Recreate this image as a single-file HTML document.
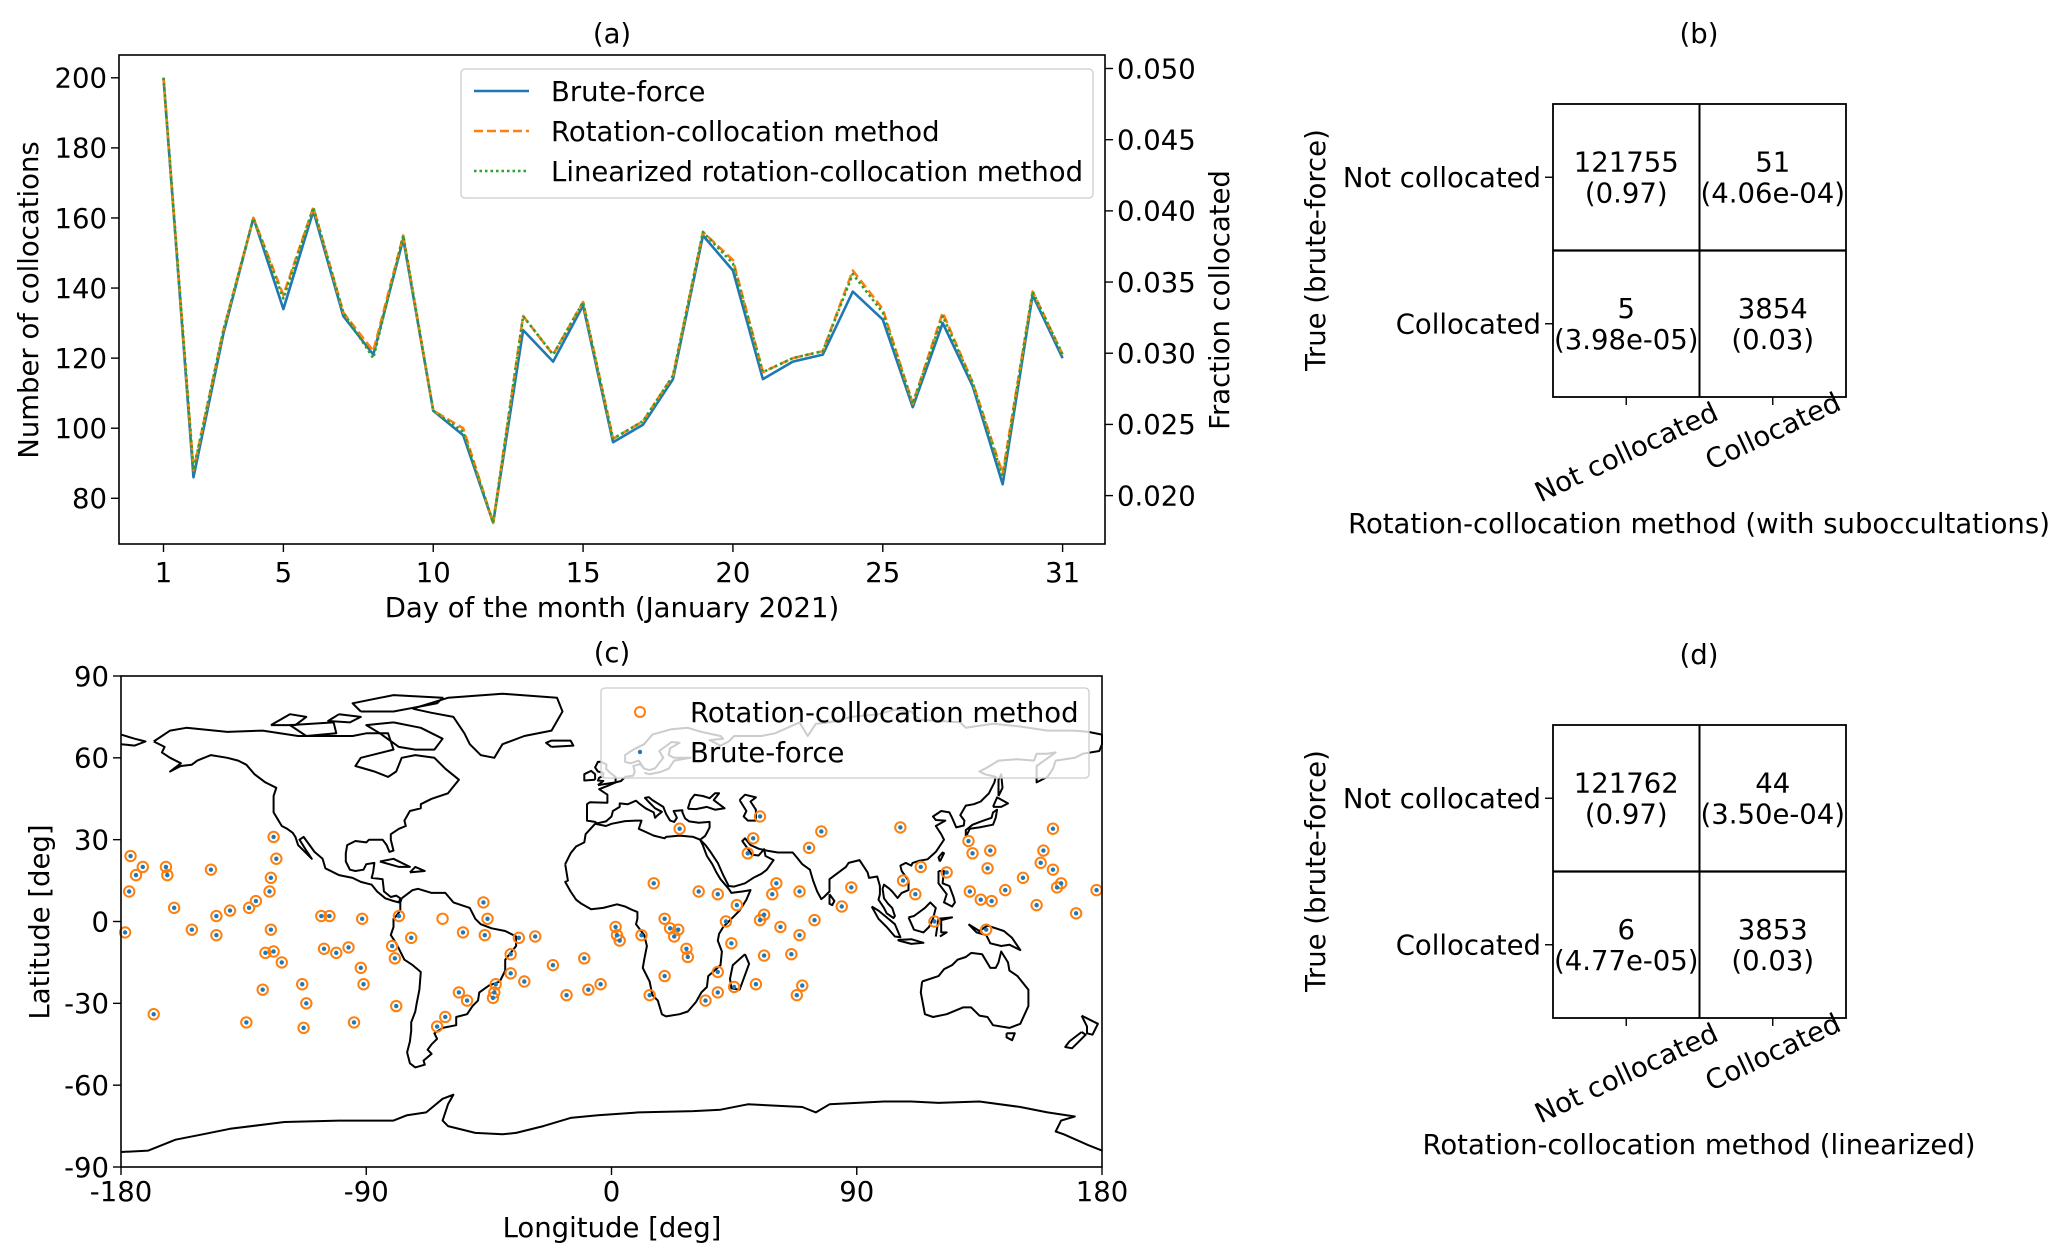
<!DOCTYPE html>
<html><head><meta charset="utf-8"><style>
html,body{margin:0;padding:0;background:#fff;}
svg{display:block;font-family:"DejaVu Sans","Liberation Sans",sans-serif;}
</style></head><body>
<svg id="fig" width="2067" height="1260" viewBox="0 0 2067 1260" xmlns="http://www.w3.org/2000/svg">
<rect width="2067" height="1260" fill="#fff"/>
<g id="pa"></g>
<g id="pc"></g>
<g id="pb"></g>
<g id="pd"></g>
</svg>
<script>
const days=[1,2,3,4,5,6,7,8,9,10,11,12,13,14,15,16,17,18,19,20,21,22,23,24,25,26,27,28,29,30,31];
const bruteForce=[200,86,127,160,134,162,132,121,154,105,98,73,128,119,135,96,101,114,155,145,114,119,121,139,131,106,130,112,84,138,120];
const rotation=[200,88,128,160,138,163,133,122,155,105,100,73,132,121,136,97,102,115,156,148,116,120,122,145,134,107,133,113,87,139,121];
const linearized=[200,88,128,160,137,163,133,120,155,105,99,73,132,121,136,97,102,115,156,147,116,120,122,144,133,107,132,113,86,139,121];
const xTicks=[1,5,10,15,20,25,31];
const yTicks=[80,100,120,140,160,180,200];
const y2Ticks=[0.020,0.025,0.030,0.035,0.040,0.045,0.050];
const y2Labels=["0.020","0.025","0.030","0.035","0.040","0.045","0.050"];
const lonTicks=[-180,-90,0,90,180];
const latTicks=[90,60,30,0,-30,-60,-90];
const ptsLon=[-178.5,-176.5,-177,-174.5,-172,-168,-163.5,-163,-160.5,-154,-147,-145,-145,-140,-134,-133,-130.5,-128,-127,-125.5,-125,-125,-124,-124,-123,-121,-113.5,-113,-112,-106.5,-105.5,-103.5,-101,-96.5,-94.5,-92,-91.5,-91,-80.5,-79.5,-79,-78,-73.5,-64,-61,-56,-54.5,-53,-47,-46.5,-45.5,-43.5,-43,-42.5,-37,-37,-34,-32,-28,-21.5,-16.5,-10,-8.5,-4,1.5,2,3,11,14,15.5,19.5,19.5,21.5,23,24.5,25,27.5,28,32,34.5,39,39,39,42,44,45,46,50,52,54.5,54.5,53,56,56,59,60.5,62,66,68,69,69,70,72.5,74.5,77,84.5,88,106,107,111.5,113.5,118.5,123,131,131.5,132.5,135.5,138,139,139.5,137.5,144.5,151,156,157.5,158.5,162,162,163.5,165,170.5,178];
const ptsLat=[-4,24,11,17,20,-34,20,17,5,-3,19,2,-5,4,-37,5,7.5,-25,-11.5,11,16,-3,-11,31,23,-15,-23,-39,-30,2,-10,2,-11.5,-9.5,-37,-17,1,-23,-9,-13.5,-31,2,-6,-38.5,-35,-26,-4,-29,7,-5,1,-28,-26,-23,-12,-19,-6,-22,-5.5,-16,-27,-13.5,-25,-23,-2,-5,-7,-5,-27,14,1,-20,-2.5,-5.5,-3,34,-10,-13,11,-29,-18.5,10,-26,0,-8,-24,6,25,30.5,38.5,0.5,-23,2.5,-12.5,10,14,-2,-12,-27,-5,11,-23.5,27,0.5,33,5.5,12.5,34.5,15,10,20,0,18,29.5,11,25,8,19.5,26,7.5,-3,11.5,16,6,21.5,26,34,19,12.5,14,3,11.5];
const extraRotLon=[-62];
const extraRotLat=[1];

const NS='http://www.w3.org/2000/svg';
function mk(parent,tag,attrs,txt){const e=document.createElementNS(NS,tag);for(const k in attrs)e.setAttribute(k,attrs[k]);if(txt!==undefined)e.textContent=txt;parent.appendChild(e);return e;}
const FS=27.5;
const OFF=9.8;

// ---------- Panel (a) ----------
const pa=document.getElementById('pa');
const A={l:119,r:1105,t:55,b:544};
const ax=d=>163.5+(d-1)*(1062.6-163.5)/30;
const ay=v=>498.3-(v-80)*(498.3-77.8)/120;
const ay2=v=>495.6-(v-0.020)*(495.6-68.5)/0.030;
let t=mk(pa,'text',{x:612,y:43,'text-anchor':'middle','font-size':FS},'(a)');


function poly(vals,color,dash,name){const p=mk(pa,'polyline',{points:vals.map((v,i)=>ax(days[i])+','+ay(v)).join(' '),fill:'none',stroke:color,'stroke-width':2.6,'stroke-dasharray':dash,'stroke-linejoin':'round'});}
poly(bruteForce,'#1f77b4','none','brute-force-line');
poly(rotation,'#ff7f0e','9,4','rotation-collocation-line');
poly(linearized,'#2ca02c','2.5,3','linearized-rotation-line');
let fr=mk(pa,'rect',{x:A.l,y:A.t,width:A.r-A.l,height:A.b-A.t,fill:'none',stroke:'#000','stroke-width':1.6});


xTicks.forEach(d=>{mk(pa,'line',{x1:ax(d),x2:ax(d),y1:A.b,y2:A.b+8,stroke:'#000','stroke-width':1.4});const e=mk(pa,'text',{x:ax(d),y:582,'text-anchor':'middle','font-size':FS},String(d));});
yTicks.forEach(v=>{mk(pa,'line',{x1:A.l-8,x2:A.l,y1:ay(v),y2:ay(v),stroke:'#000','stroke-width':1.4});const e=mk(pa,'text',{x:A.l-12,y:ay(v)+OFF,'text-anchor':'end','font-size':FS},String(v));});
y2Ticks.forEach((v,i)=>{mk(pa,'line',{x1:A.r,x2:A.r+8,y1:ay2(v),y2:ay2(v),stroke:'#000','stroke-width':1.4});const e=mk(pa,'text',{x:A.r+12,y:ay2(v)+OFF,'font-size':FS},y2Labels[i]);});
t=mk(pa,'text',{x:612,y:617,'text-anchor':'middle','font-size':FS},'Day of the month (January 2021)');


t=mk(pa,'text',{transform:'translate(38,300) rotate(-90)','text-anchor':'middle','font-size':FS},'Number of collocations');


t=mk(pa,'text',{transform:'translate(1229,300) rotate(-90)','text-anchor':'middle','font-size':FS},'Fraction collocated');


const lg=mk(pa,'g',{});


mk(lg,'rect',{x:461,y:69,width:632,height:129,rx:4,fill:'#fff','fill-opacity':0.85,stroke:'#ccc','stroke-width':1.3});
[['Brute-force','#1f77b4','none'],['Rotation-collocation method','#ff7f0e','9,4'],['Linearized rotation-collocation method','#2ca02c','2.5,3']].forEach((L,i)=>{const y=91+i*40;mk(lg,'line',{x1:474,x2:529,y1:y,y2:y,stroke:L[1],'stroke-width':2.6,'stroke-dasharray':L[2]});const e=mk(lg,'text',{x:551,y:y+OFF,'font-size':FS},L[0]);});

// ---------- Panel (c) map ----------
const pc=document.getElementById('pc');
const C={l:121,r:1102,t:676,b:1167};
const mx=lon=>C.l+(lon+180)*(C.r-C.l)/360;
const my=lat=>C.t+(90-lat)*(C.b-C.t)/180;
t=mk(pc,'text',{x:612,y:662,'text-anchor':'middle','font-size':FS},'(c)');


const coasts=[
[[-168,66],[-162,70],[-156,71],[-141,69.5],[-128,70],[-115,68],[-95,68],[-90,69],[-82,69],[-80,63],[-92,60],[-94,57],[-87,55],[-82,53],[-79,55],[-77,60],[-72,61],[-65,60],[-61,56],[-56,52],[-60,47],[-66,45],[-70,43],[-70,41.5],[-74,40.5],[-76,37],[-75.5,35],[-78,34],[-81,32],[-81,30],[-80,26],[-81.5,25.5],[-82.5,28],[-84,30],[-89,30],[-90,29],[-94,29.5],[-97,28],[-97.5,25],[-97.5,22],[-96,19],[-94,18.5],[-91,19],[-90,21],[-87,21.5],[-87.5,18],[-88,16],[-84,15.5],[-83.5,11],[-81,9],[-79,9.5],[-77.5,8.5],[-78,7],[-80,7.5],[-83,8.5],[-86,11],[-88,13.5],[-92,14.5],[-95,16],[-100,17],[-105,19.5],[-106,23],[-109,25.5],[-113,31],[-114.5,30],[-112,26],[-110,23],[-112,25],[-115,28],[-116,31],[-117,32.5],[-119,34],[-121,35],[-122.5,37.5],[-124,40],[-124,46],[-123,49],[-127,51],[-131,54],[-134,57.5],[-137,59],[-141,60],[-147,61],[-152,59],[-154,57.5],[-158,57],[-162,55],[-158,58],[-162,60],[-165,62],[-164,64],[-168,66]],
[[-73,78],[-60,82],[-40,83.5],[-20,82],[-18,77],[-22,70],[-32,68],[-40,65],[-43,60],[-48,61],[-52,65],[-54,69],[-58,75],[-66,76.5],[-73,78]],
[[-80,73],[-70,71],[-62,67],[-65,63],[-72,63],[-78,64],[-85,69],[-90,72],[-80,73]],
[[-118,72],[-102,73],[-101,69],[-112,68],[-118,72]],
[[-92,77],[-80,77],[-64,80],[-62,82],[-80,83],[-95,80],[-92,77]],
[[-125,72],[-118,76],[-112,75],[-116,72],[-125,72]],
[[-100,76],[-92,75],[-96,73],[-104,73.5],[-100,76]],
[[-77,8.5],[-73,11.5],[-71,12],[-66,10.5],[-61,10.5],[-58,7],[-52,5],[-50,1],[-48,-1],[-44,-2.5],[-39,-3.5],[-35,-5.5],[-35,-9],[-39,-14],[-39,-18],[-41,-22],[-45,-23.5],[-48.5,-26],[-49,-29],[-51,-31],[-53,-34],[-57,-35],[-57,-38],[-62,-39],[-65,-41],[-64,-43],[-66,-45],[-67.5,-47],[-66,-48.5],[-69,-51],[-68.5,-52.5],[-72,-53.5],[-74,-52],[-75,-48],[-74,-44],[-73.5,-40],[-73.5,-37],[-72,-33],[-71.5,-30],[-70.5,-25],[-70,-18.5],[-73,-16],[-76,-14],[-79,-8],[-81,-5],[-80,-2],[-80,1],[-79,2],[-77.5,4],[-77.5,7],[-77,8.5]],
[[-17,21],[-16,15],[-17,14.5],[-15,11],[-13,8],[-11,6.5],[-7.5,4.5],[-3,5],[2,6.3],[5,5.5],[7,4.5],[9.5,3.5],[9.5,1],[9,-1],[12,-5],[13,-9],[12,-14],[11.5,-17],[14,-22],[15,-27],[17,-29],[18.5,-34],[20,-34.8],[25,-34],[28,-33],[31,-29.5],[33,-26],[35,-24],[35.5,-20],[40,-16],[40.5,-11],[39,-7],[39.5,-4.5],[41,-2],[44,1],[47,4],[49.5,8],[51,11.5],[48,11],[44,10.5],[43,12],[40,15.5],[38.5,18],[37,21],[35,24],[33.5,28],[32.5,30],[30,31],[25,31.5],[20,31],[19.5,30.5],[15.5,31.5],[10,34],[11,37],[9,37],[5,36.8],[0,35.8],[-2,35],[-6,35.8],[-9.5,32],[-10,29],[-13,27.5],[-15,25],[-17,21]],
[[32.5,30],[34.5,28],[36,26],[39,21.5],[41,17],[43,13],[45,12.8],[49,14],[52,16],[55,17.5],[57,19],[59.5,22.5],[56.5,24],[56,26.5],[54,24.2],[51.5,24.5],[50.5,26],[48,29.5],[49,30.5],[51,28],[54,26.7],[57,26],[61,25.3],[66.5,25.3],[68,23.5],[70,21],[72.8,19],[74,15],[75.5,11],[77,8.2],[78,9],[80,11],[80,15.5],[82,17],[86,20],[87,21.5],[89,22],[91,22.5],[92,21],[94,18],[94.5,16],[97.5,16.5],[98.5,13],[98.5,10],[98,8],[100,5],[101,3],[103.5,1.3],[104,2],[103,5],[101.5,6.5],[100,8.5],[99.5,12],[100,13.5],[102,12],[103,11],[105,8.6],[106.5,10.5],[109,11.5],[109,15],[106.5,18.5],[106,20.5],[108,21.5],[110,20.5],[110.5,21.5],[113,22.3],[116,22.8],[119,25.5],[120,27],[122,30],[121,32],[119,35],[122.5,37],[119,37.2],[118,38.5],[121,40.5],[124,40],[125,38],[126.5,34.5],[129.3,35.2],[129.5,37],[128,39],[130,42.5],[133,43],[135.5,44],[138.5,47],[140.5,51],[141,53],[137,54],[135,55],[138,56.5],[142,59],[149,59.5],[155,59],[156,61.5],[160,61.5],[163,62],[156,57],[156,51],[160,53],[162,56],[163,59],[170,60],[173,61.5],[179,62.5],[180,65],[180,68.5],[175,69.5],[170,70],[160,70],[150,71.5],[140,72.5],[130,71],[128,73],[113,74],[110,77],[104,77.7],[98,76],[88,75],[80,73],[75,72.5],[72,68],[69,73],[60,69],[55,68],[45,68],[43,66],[40,64.5],[36,66.5],[41,67],[40,68],[33,69.5],[28,71],[22,70.5],[15,68.5],[12,65],[8,63],[5,61],[5,58.5],[7,58],[10,59],[12,56],[10.5,57.7],[8,57],[8.5,55],[8,53.5],[5,53],[3.5,51.5],[1.5,51],[-1.5,49.7],[-4.5,48.5],[-1.5,46.5],[-1.5,43.5],[-8,43.7],[-9,43],[-9,39],[-9,37],[-6,36.5],[-5.3,36],[-2,36.7],[0,38.5],[0.5,40.5],[3,42],[3,43.3],[6,43],[9,44.3],[10.5,43],[12.5,41.5],[15.5,40],[16,38],[17,39],[18.5,40.2],[16,41.5],[13.5,44],[12.3,45.3],[13.7,45.6],[15,44.5],[19,42],[20,39.5],[21.5,37],[23,36.5],[24,38],[22.8,40.5],[26,40.8],[26,40],[27,37.8],[28.5,36.7],[32,36.2],[36,36.5],[36,34.5],[35,32.5],[34.3,31.3],[32.5,30]],
[[12,56],[14,55.5],[16,56.2],[19,60],[17.5,62.5],[22,65.8],[25,65.5],[21.5,63.5],[21,61],[23,60],[29,60],[23,59],[21,56],[18,54.8],[14,54],[12,54.5]],
[[28,41.3],[29,44.5],[30.5,46.5],[33.5,46],[36,45.2],[38,47],[39.5,47],[37.5,44.5],[41.5,41.5],[38,41],[35,42],[31,41.2],[28,41.3]],
[[47,44.5],[49,46.5],[53,45.5],[51,44],[53,41],[53,37],[50,37],[48.5,38.5],[49.5,40.5],[47,44.5]],
[[-5,50],[1.5,51],[1.5,53],[-0.5,54.5],[-2,56],[-1.8,57.6],[-4,58.6],[-5,58.5],[-6,56.5],[-5,55],[-3,54.5],[-3,53.3],[-4.5,52.7],[-5,51.7],[-3,51.5],[-5,50]],
[[-6,52],[-6,54],[-7.5,55.2],[-10,54],[-10,51.7],[-6,52]],
[[-22,64],[-14,64.5],[-15,66.3],[-22,66.3],[-24,65.5],[-22,64]],
[[49,-12],[50.5,-15.5],[47,-25],[44,-24.5],[43.5,-21],[44.5,-16],[49,-12]],
[[80,10],[81.8,7.5],[81,6],[80,6.5],[80,10]],
[[130,31],[131.5,34],[135,34.5],[140,35.5],[141,38],[141.5,41],[140,40],[139.5,38],[136.5,37],[132.5,35.5],[130,33.5],[130,31]],
[[140,42],[141.5,45.5],[145.5,43.3],[143,42],[140,42]],
[[142,46],[143.5,49],[143,54],[142,52],[142,46]],
[[120.5,22],[122,25],[121.5,25.3],[120,23.5],[120.5,22]],
[[120,18.5],[122,18.5],[121.5,14],[124,13],[125.5,9],[126,7],[125,5.5],[122,7],[123,10],[120,14],[120,18.5]],
[[109,1.5],[111,-3],[114.5,-4],[116.5,-2],[118,1],[119,5],[117,7],[115,5],[111,2],[109,1.5]],
[[95.5,5.5],[98,4],[104,-1],[106,-5.8],[104,-5.5],[101,-2],[98,1],[95.5,5.5]],
[[105,-6.8],[110,-6.5],[114.5,-7.8],[110,-8.2],[105.5,-7],[105,-6.8]],
[[119,-5.5],[120,1],[125,1.5],[121,0.5],[121,-4],[123,-4],[120.5,-5.5]],
[[131,-1],[135,-3.5],[138,-1.5],[144,-3.5],[147,-6],[150,-10.5],[146,-8.5],[143,-9],[139,-8],[137.5,-5],[134,-4],[131,-1]],
[[114,-22],[113.5,-26],[115,-34],[118,-35],[123,-34],[129,-31.5],[132,-31.5],[135,-34.5],[138,-35],[140,-38],[146,-39],[150,-37.5],[153,-31],[153,-25],[149,-20],[146,-18],[145.5,-15],[143,-11],[142,-15],[141,-17],[139,-17],[136,-12],[132,-11.5],[130,-13],[127,-14],[125,-16],[122,-17.5],[120,-20],[114,-22]],
[[145,-41],[148,-41],[147,-43.5],[145,-42.5],[145,-41]],
[[172.5,-34.5],[178.5,-37.5],[176.5,-41.5],[174.5,-41],[174.5,-38.5],[172.5,-34.5]],
[[172.5,-40.5],[174,-41.5],[171,-44.5],[169,-46.5],[166.5,-46],[168,-44],[172.5,-40.5]],
[[-85,22],[-80,23],[-74,20],[-78,20],[-85,22]],
[[-74,18],[-68.5,18.5],[-72,20],[-74,18]],
[[-180,68.5],[-175,67],[-171,66],[-175,64.5],[-180,65]],
[[-180,-84.5],[-170,-84],[-160,-80],[-150,-78],[-140,-76],[-120,-73.5],[-100,-73],[-80,-73],[-75,-71],[-68,-70],[-62,-65],[-58,-63.5],[-60,-67],[-62,-73],[-60,-75],[-50,-77.5],[-40,-78],[-35,-77.5],[-25,-75],[-15,-72],[-5,-71],[10,-70],[30,-69.5],[40,-69],[50,-67],[70,-68],[75,-70],[80,-67],[90,-66.5],[100,-66],[110,-66],[120,-66.5],[135,-66],[150,-68],[160,-70],[170,-71.5],[165,-73],[163,-77],[166,-78],[175,-82],[180,-84]]
];
const cg=mk(pc,'g',{fill:'none',stroke:'#000','stroke-width':2,'stroke-linejoin':'round'});


coasts.forEach(c=>{mk(cg,'polyline',{points:c.map(p=>mx(p[0]).toFixed(1)+','+my(p[1]).toFixed(1)).join(' ')});});
const mg=mk(pc,'g',{});


ptsLon.forEach((lo,i)=>{const r=mk(mg,'circle',{cx:mx(lo),cy:my(ptsLat[i]),r:5.2,fill:'none',stroke:'#ff7f0e','stroke-width':2});});
extraRotLon.forEach((lo,i)=>{const r=mk(mg,'circle',{cx:mx(lo),cy:my(extraRotLat[i]),r:5.2,fill:'none',stroke:'#ff7f0e','stroke-width':2});});
ptsLon.forEach((lo,i)=>{const r=mk(mg,'circle',{cx:mx(lo),cy:my(ptsLat[i]),r:2.2,fill:'#1f77b4'});});
fr=mk(pc,'rect',{x:C.l,y:C.t,width:C.r-C.l,height:C.b-C.t,fill:'none',stroke:'#000','stroke-width':1.6});


lonTicks.forEach(v=>{mk(pc,'line',{x1:mx(v),x2:mx(v),y1:C.b,y2:C.b+8,stroke:'#000','stroke-width':1.4});const e=mk(pc,'text',{x:mx(v),y:1201,'text-anchor':'middle','font-size':FS},String(v));});
latTicks.forEach(v=>{mk(pc,'line',{x1:C.l-8,x2:C.l,y1:my(v),y2:my(v),stroke:'#000','stroke-width':1.4});const e=mk(pc,'text',{x:C.l-12,y:my(v)+OFF,'text-anchor':'end','font-size':FS},String(v));});
t=mk(pc,'text',{x:612,y:1237,'text-anchor':'middle','font-size':FS},'Longitude [deg]');


t=mk(pc,'text',{transform:'translate(49,922) rotate(-90)','text-anchor':'middle','font-size':FS},'Latitude [deg]');


const lc=mk(pc,'g',{});


mk(lc,'rect',{x:601,y:688,width:488,height:90,rx:4,fill:'#fff','fill-opacity':0.8,stroke:'#ccc','stroke-width':1.3});
mk(lc,'circle',{cx:640,cy:712,r:5,fill:'none',stroke:'#ff7f0e','stroke-width':2});
mk(lc,'circle',{cx:640,cy:752,r:2.2,fill:'#1f77b4'});
t=mk(lc,'text',{x:690,y:722,'font-size':FS},'Rotation-collocation method');


t=mk(lc,'text',{x:690,y:762,'font-size':FS},'Brute-force');



// ---------- Confusion matrices ----------
const cmB=[["121755","(0.97)"],["51","(4.06e-04)"],["5","(3.98e-05)"],["3854","(0.03)"]];
const cmD=[["121762","(0.97)"],["44","(3.50e-04)"],["6","(4.77e-05)"],["3853","(0.03)"]];
function cm(g,dy,vals,title,xlabel){
  const L=1553,R=1846,T=104+dy,B=397+dy,mxm=(L+R)/2,mym=(T+B)/2;
  let e=mk(g,'text',{x:1699,y:43+dy,'text-anchor':'middle','font-size':FS},title);
  
  
  mk(g,'rect',{x:L,y:T,width:R-L,height:B-T,fill:'#fff',stroke:'#000','stroke-width':1.8});
  mk(g,'line',{x1:mxm,x2:mxm,y1:T,y2:B,stroke:'#000','stroke-width':2});
  mk(g,'line',{x1:L,x2:R,y1:mym,y2:mym,stroke:'#000','stroke-width':2.2});
  const cx=[(L+mxm)/2,(mxm+R)/2],cy=[(T+mym)/2,(mym+B)/2];
  vals.forEach((v,i)=>{const x=cx[i%2],y=cy[Math.floor(i/2)];
    e=mk(g,'text',{x:x,y:y-6,'text-anchor':'middle','font-size':FS},v[0]);
    
    
    e=mk(g,'text',{x:x,y:y+25,'text-anchor':'middle','font-size':FS},v[1]);
    
    });
  const colOff=[55,34];
  ['Not collocated','Collocated'].forEach((s,i)=>{
    mk(g,'line',{x1:L-8,x2:L,y1:cy[i],y2:cy[i],stroke:'#000','stroke-width':1.4});
    e=mk(g,'text',{x:L-12,y:cy[i]+OFF,'text-anchor':'end','font-size':FS},s);
    
    
    mk(g,'line',{x1:cx[i],x2:cx[i],y1:B,y2:B+8,stroke:'#000','stroke-width':1.4});
    e=mk(g,'text',{transform:'translate('+(cx[i])+','+(B+colOff[i])+') rotate(-25)','text-anchor':'middle','font-size':FS,dy:'0.35em'},s);
    
    });
  e=mk(g,'text',{x:1699,y:533+dy,'text-anchor':'middle','font-size':FS},xlabel);
  
  
  e=mk(g,'text',{transform:'translate(1325,'+(250+dy)+') rotate(-90)','text-anchor':'middle','font-size':FS},'True (brute-force)');
  
  
}
cm(document.getElementById('pb'),0,cmB,'(b)','Rotation-collocation method (with suboccultations)');
cm(document.getElementById('pd'),621,cmD,'(d)','Rotation-collocation method (linearized)');
</script>
</body></html>
